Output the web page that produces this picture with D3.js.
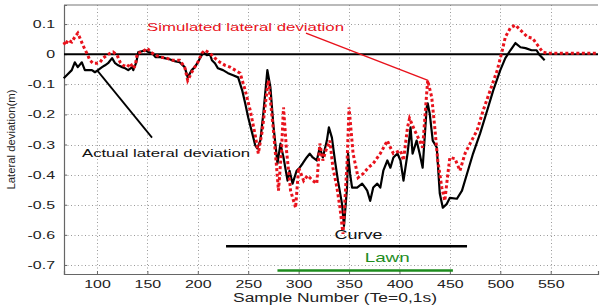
<!DOCTYPE html>
<html>
<head>
<meta charset="utf-8">
<script src="https://cdn.jsdelivr.net/npm/d3@7"></script>
<style>
	body { margin: 0; background: #fff; }
	text { font-family: "Liberation Sans", Arial, sans-serif; }
</style>
</head>
<body>
<svg id="chart" width="600" height="305"></svg>
<script>
// sample numbers and lateral deviation (m)
const ACTUAL_X = [67, 70, 75, 78, 81, 85, 88, 95, 98, 101, 105, 108, 111, 115, 118, 121, 125, 128, 131, 135, 136, 139, 141, 145, 148, 151, 155, 158, 163, 167, 172, 177, 182, 187, 190, 194, 197, 200, 204, 205, 209, 212, 214, 217, 220, 225, 230, 235, 240, 244, 247, 250, 254, 257, 259, 262, 265, 269, 272, 275, 279, 282, 285, 289, 291, 294, 298, 301, 304, 308, 311, 314, 318, 321, 324, 328, 330, 333, 336, 339, 343, 345, 348, 349, 351, 353, 358, 363, 366, 368, 371, 374, 378, 381, 384, 388, 391, 394, 398, 401, 404, 408, 411, 413, 417, 420, 423, 427, 428, 430, 433, 437, 440, 443, 447, 450, 457, 462, 467, 473, 480, 487, 493, 500, 505, 510, 515, 520, 525, 531, 536, 539, 544];
const ACTUAL_Y = [-0.080, -0.070, -0.053, -0.027, -0.043, -0.027, -0.053, -0.053, -0.060, -0.053, -0.043, -0.037, -0.030, -0.013, -0.030, -0.037, -0.043, -0.047, -0.053, -0.043, -0.053, -0.027, 0.007, 0.010, 0.013, 0.007, 0.003, -0.010, -0.010, -0.013, -0.017, -0.023, -0.027, -0.043, -0.077, -0.053, -0.043, -0.027, -0.003, 0.007, -0.003, 0.000, -0.020, -0.030, -0.047, -0.053, -0.063, -0.070, -0.077, -0.120, -0.163, -0.210, -0.263, -0.303, -0.313, -0.287, -0.197, -0.053, -0.110, -0.237, -0.363, -0.297, -0.343, -0.420, -0.387, -0.430, -0.387, -0.377, -0.363, -0.343, -0.330, -0.343, -0.353, -0.310, -0.343, -0.287, -0.243, -0.277, -0.353, -0.420, -0.497, -0.570, -0.443, -0.330, -0.397, -0.443, -0.443, -0.430, -0.443, -0.453, -0.487, -0.443, -0.430, -0.443, -0.387, -0.353, -0.377, -0.343, -0.330, -0.353, -0.420, -0.330, -0.243, -0.330, -0.287, -0.330, -0.377, -0.177, -0.163, -0.197, -0.287, -0.310, -0.463, -0.510, -0.497, -0.477, -0.480, -0.453, -0.397, -0.330, -0.263, -0.187, -0.120, -0.053, -0.013, 0.013, 0.037, 0.023, 0.020, 0.013, 0.013, -0.003, -0.020];

const SIM_X = [67, 69, 71, 75, 78, 81, 84, 86, 90, 93, 96, 100, 103, 106, 110, 113, 116, 120, 123, 126, 130, 133, 136, 138, 140, 145, 150, 153, 158, 163, 169, 175, 182, 187, 190, 194, 197, 200, 204, 207, 212, 217, 222, 227, 232, 237, 242, 247, 252, 257, 260, 264, 268, 270, 272, 275, 278, 280, 283, 285, 288, 292, 297, 300, 305, 309, 314, 318, 321, 324, 327, 331, 334, 338, 341, 344, 348, 350, 354, 359, 364, 369, 374, 381, 388, 391, 394, 401, 404, 408, 410, 415, 420, 423, 427, 428, 432, 435, 438, 442, 445, 448, 450, 455, 460, 465, 470, 477, 483, 490, 497, 502, 505, 510, 515, 520, 527, 532, 537, 542, 547, 559, 597];
const SIM_Y = [0.040, 0.030, 0.047, 0.040, 0.057, 0.070, 0.047, 0.030, 0.003, -0.020, -0.030, -0.030, -0.027, -0.013, -0.003, 0.003, 0.007, -0.003, -0.027, -0.037, -0.043, -0.030, -0.047, -0.037, 0.003, 0.007, 0.020, 0.007, -0.003, -0.010, -0.013, -0.020, -0.020, -0.043, -0.087, -0.060, -0.043, -0.027, 0.003, 0.013, 0.003, -0.013, -0.027, -0.037, -0.043, -0.053, -0.063, -0.120, -0.187, -0.270, -0.330, -0.253, -0.137, -0.087, -0.153, -0.253, -0.370, -0.453, -0.320, -0.177, -0.320, -0.453, -0.510, -0.377, -0.420, -0.403, -0.420, -0.430, -0.297, -0.353, -0.320, -0.287, -0.377, -0.443, -0.510, -0.597, -0.363, -0.177, -0.330, -0.410, -0.397, -0.377, -0.363, -0.330, -0.287, -0.310, -0.330, -0.320, -0.353, -0.243, -0.213, -0.253, -0.287, -0.310, -0.130, -0.087, -0.143, -0.243, -0.353, -0.443, -0.487, -0.397, -0.343, -0.347, -0.387, -0.330, -0.297, -0.253, -0.187, -0.120, -0.053, 0.013, 0.057, 0.087, 0.097, 0.080, 0.057, 0.053, 0.030, 0.007, 0.003, 0.003, 0.003];

const X_TICKS = [100, 150, 200, 250, 300, 350, 400, 450, 500, 550];
const Y_TICKS = [0.1, 0, -0.1, -0.2, -0.3, -0.4, -0.5, -0.6, -0.7];

// manoeuvre bars: [label, start, end, level]
const SEGMENTS = [
	['Curve', 228, 467, -0.638],
	['Lawn', 279, 453, -0.718]
];

const W = 600, H = 305;
const X_RANGE = [64, 598];
const Y_RANGE = [274, 5];

function whenDocumentLoaded(action) {
	if (document.readyState === "loading") {
		document.addEventListener("DOMContentLoaded", action);
	} else {
		action();
	}
}

function draw() {
	const svg = d3.select('#chart');

	const x = d3.scaleLinear().domain([67.3, 596.9]).range(X_RANGE);
	const y = d3.scaleLinear().domain([-0.73, 0.1633]).range(Y_RANGE);

	/* dotted grid */
	const grid = svg.append('g')
		.attr('stroke', '#9a9a9a')
		.attr('stroke-width', 1)
		.attr('stroke-dasharray', '1,2.5');
	grid.selectAll('line.gx')
		.data(X_TICKS)
		.enter().append('line')
			.attr('x1', d => Math.round(x(d)) + 0.5)
			.attr('x2', d => Math.round(x(d)) + 0.5)
			.attr('y1', Y_RANGE[1])
			.attr('y2', Y_RANGE[0]);
	grid.selectAll('line.gy')
		.data(Y_TICKS)
		.enter().append('line')
			.attr('x1', X_RANGE[0])
			.attr('x2', X_RANGE[1])
			.attr('y1', d => Math.round(y(d)) + 0.5)
			.attr('y2', d => Math.round(y(d)) + 0.5);

	/* axes */
	const STRETCH = 1.45;
	const xAxis = svg.append('g')
		.attr('transform', `translate(0,${Y_RANGE[0]})`)
		.call(d3.axisBottom(x).tickValues(X_TICKS).tickSize(-3).tickPadding(6));
	const yAxis = svg.append('g')
		.attr('transform', `translate(${X_RANGE[0]},0)`)
		.call(d3.axisLeft(y).tickValues(Y_TICKS).tickSize(-3)
			.tickFormat(d => d === 0 ? '0' : d.toFixed(1)).tickPadding(9.5));
	[xAxis, yAxis].forEach(a => {
		a.select('.domain').attr('stroke', '#666').attr('stroke-width', 1.2);
		a.selectAll('.tick line').attr('stroke', '#666');
		a.selectAll('.tick text')
			.attr('fill', '#222')
			.style('font-size', '11px');
	});
	xAxis.selectAll('.tick text').attr('transform', `scale(${STRETCH},1)`);
	yAxis.selectAll('.tick text')
		.attr('x', -9 / STRETCH)
		.attr('transform', `scale(${STRETCH},1)`);

	// top border
	svg.append('line')
		.attr('x1', X_RANGE[0]).attr('x2', X_RANGE[1])
		.attr('y1', Y_RANGE[1]).attr('y2', Y_RANGE[1])
		.attr('stroke', '#777').attr('stroke-width', 1.2);

	// zero reference line
	svg.append('line')
		.attr('x1', X_RANGE[0]).attr('x2', X_RANGE[1])
		.attr('y1', y(0)).attr('y2', y(0))
		.attr('stroke', '#000').attr('stroke-width', 2);

	/* series */
	const actual = ACTUAL_X.map((v, i) => ({ x: v, y: ACTUAL_Y[i] }));
	const sim = SIM_X.map((v, i) => ({ x: v, y: SIM_Y[i] }));
	const line = d3.line().x(d => x(d.x)).y(d => y(d.y));

	svg.append('path')
		.datum(actual)
		.attr('d', line)
		.attr('fill', 'none')
		.attr('stroke', '#000')
		.attr('stroke-width', 2.2)
		.attr('stroke-linejoin', 'round');
	svg.append('path')
		.datum(sim)
		.attr('d', line)
		.attr('fill', 'none')
		.attr('stroke', '#e8121c')
		.attr('stroke-width', 3)
		.attr('stroke-dasharray', '3,2.5');

	/* manoeuvre bars */
	const segColors = ['#000', '#1e8c1e'];
	const segLabel = [[48, 239], [45, 262]];
	SEGMENTS.forEach((s, i) => {
		svg.append('line')
			.attr('x1', x(s[1])).attr('x2', x(s[2]))
			.attr('y1', y(s[3])).attr('y2', y(s[3]))
			.attr('stroke', segColors[i]).attr('stroke-width', 2.5);
		svg.append('text')
			.attr('x', (x(s[1]) + x(s[2])) / 2 + (i === 0 ? 12 : 22))
			.attr('y', segLabel[i][1])
			.attr('text-anchor', 'middle')
			.attr('textLength', segLabel[i][0])
			.attr('lengthAdjust', 'spacingAndGlyphs')
			.style('font-size', '13px')
			.attr('fill', i === 0 ? '#111' : '#1e8c1e')
			.text(s[0]);
	});

	/* annotations */
	svg.append('text')
		.attr('x', 147).attr('y', 31)
		.attr('textLength', 197).attr('lengthAdjust', 'spacingAndGlyphs')
		.style('font-size', '11.5px')
		.attr('fill', '#e8121c')
		.text('Simulated lateral deviation');
	svg.append('line')
		.attr('x1', x(307.3)).attr('y1', y(0.07))
		.attr('x2', x(428.3)).attr('y2', y(-0.087))
		.attr('stroke', '#e8121c').attr('stroke-width', 1.5);

	svg.append('text')
		.attr('x', 82).attr('y', 157)
		.attr('textLength', 168).attr('lengthAdjust', 'spacingAndGlyphs')
		.style('font-size', '11.5px')
		.attr('fill', '#111')
		.text('Actual lateral deviation');
	svg.append('line')
		.attr('x1', x(100)).attr('y1', y(-0.053))
		.attr('x2', x(154.6)).attr('y2', y(-0.277))
		.attr('stroke', '#000').attr('stroke-width', 1.8);

	/* axis titles */
	svg.append('text')
		.attr('x', 233).attr('y', 302)
		.attr('textLength', 204).attr('lengthAdjust', 'spacingAndGlyphs')
		.style('font-size', '12.5px')
		.attr('fill', '#222')
		.text('Sample Number (Te=0,1s)');
	svg.append('text')
		.attr('transform', `translate(15,${(Y_RANGE[0] + Y_RANGE[1]) / 2}) rotate(-90)`)
		.attr('text-anchor', 'middle')
		.attr('textLength', 100).attr('lengthAdjust', 'spacingAndGlyphs')
		.style('font-size', '11px')
		.attr('fill', '#222')
		.text('Lateral deviation(m)');
}

whenDocumentLoaded(draw);
</script>
</body>
</html>
